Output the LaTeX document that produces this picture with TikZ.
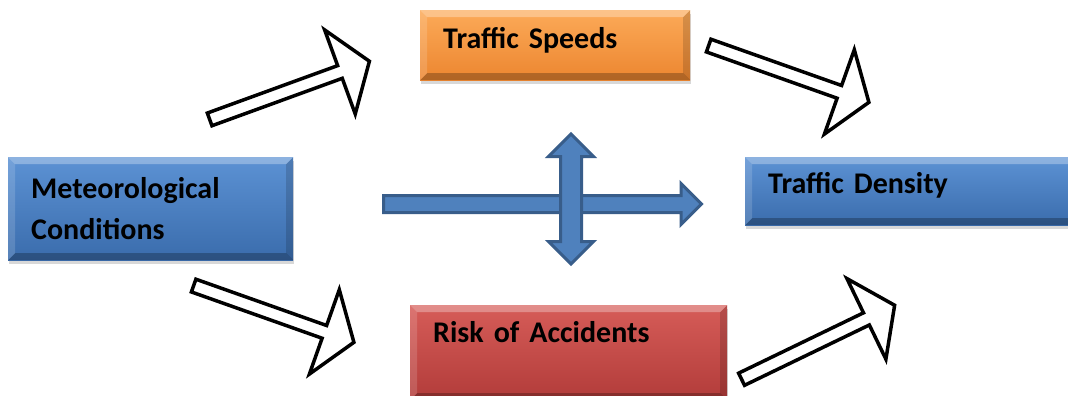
\documentclass[tikz,border=0pt]{standalone}
\usepackage{fontspec}
\setmainfont{Carlito}
\usetikzlibrary{shapes.arrows,shadows}

\definecolor{blueTop}{RGB}{92,146,212}
\definecolor{blueBot}{RGB}{58,108,172}
\definecolor{orangeTop}{RGB}{252,170,88}
\definecolor{orangeBot}{RGB}{236,134,48}
\definecolor{redTop}{RGB}{214,92,88}
\definecolor{redBot}{RGB}{178,60,58}
\definecolor{arrowBlue}{RGB}{79,129,189}
\definecolor{arrowEdge}{RGB}{56,93,138}

\DeclareRobustCommand\boxfont{\fontsize{30}{41}\selectfont\bfseries\spaceskip=6.5pt\relax}

\tikzset{
  bevel/.style={path picture={
    \fill[white,opacity=.3] (path picture bounding box.north west) -- (path picture bounding box.north east)
      -- ([xshift=-7pt,yshift=-7pt]path picture bounding box.north east) -- ([xshift=7pt,yshift=-7pt]path picture bounding box.north west) -- cycle;
    \fill[white,opacity=.15] (path picture bounding box.north west) -- ([xshift=7pt,yshift=-7pt]path picture bounding box.north west)
      -- ([xshift=7pt,yshift=7pt]path picture bounding box.south west) -- (path picture bounding box.south west) -- cycle;
    \fill[black,opacity=.15] (path picture bounding box.north east) -- ([xshift=-7pt,yshift=-7pt]path picture bounding box.north east)
      -- ([xshift=-7pt,yshift=7pt]path picture bounding box.south east) -- (path picture bounding box.south east) -- cycle;
    \fill[black,opacity=.25] (path picture bounding box.south west) -- (path picture bounding box.south east)
      -- ([xshift=-7pt,yshift=7pt]path picture bounding box.south east) -- ([xshift=7pt,yshift=7pt]path picture bounding box.south west) -- cycle;
  }},
  box/.style={rectangle, anchor=north west, inner xsep=23pt, inner ysep=0pt, align=left,
    font=\boxfont, bevel,
    drop shadow={shadow xshift=1pt, shadow yshift=-4pt, opacity=.3}},
  bluebox/.style={box, top color=blueTop, bottom color=blueBot},
  orangebox/.style={box, top color=orangeTop, bottom color=orangeBot},
  redbox/.style={box, top color=redTop, bottom color=redBot},
  hollow/.style={single arrow, draw=black, fill=white, line width=3.5pt, minimum height=170,
    inner xsep=0pt, inner ysep=5pt, single arrow head extend=38pt, single arrow tip angle=110, anchor=tail},
  flow/.style={draw=arrowEdge, fill=arrowBlue, line width=3pt, inner xsep=0pt}
}

\begin{document}
\begin{tikzpicture}[x=1pt,y=-1pt]
\clip (0,0) rectangle (1068,396);
\fill[white] (0,0) rectangle (1068,396);

\node[bluebox, minimum width=285, minimum height=103, text width=239] (weather) at (8,157)
  {Meteorological\\Conditions};
\node[orangebox, minimum width=270, minimum height=70, text width=224, text height=19, text depth=13] (speeds) at (420,10)
  {Traffic Speeds};
\node[bluebox, minimum width=330, minimum height=68, text width=284, text height=19, text depth=15] (density) at (745,157)
  {Traffic Density};
\node[redbox, minimum width=317, minimum height=95, text width=271, text height=18, text depth=39] (risk) at (410,305)
  {Risk of Accidents};

\node[hollow, rotate=20] (toSpeeds) at (208,120) {};
\node[hollow, rotate=-19.5] (speedsToDensity) at (707,45) {};
\node[hollow, rotate=-19.5] (toRisk) at (192,285) {};
\node[hollow, rotate=25.8] (riskToDensity) at (740,380) {};

\node[flow, single arrow, anchor=tail, minimum height=318, inner ysep=7pt,
  single arrow head extend=12pt, single arrow tip angle=90] (crossing) at (382,204) {};
\node[flow, double arrow, rotate=90, minimum height=130, inner ysep=9pt,
  double arrow head extend=12pt, double arrow tip angle=90] (upDown) at (571,199) {};
\end{tikzpicture}
\end{document}
